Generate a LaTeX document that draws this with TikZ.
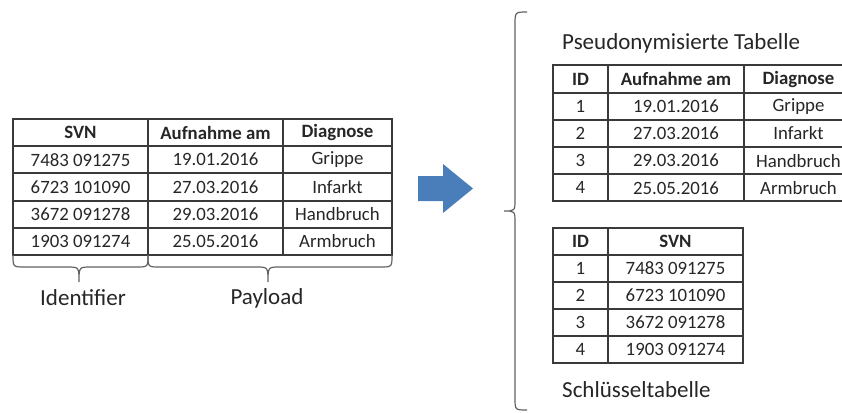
\documentclass[tikz,border=0pt]{standalone}
\usepackage{fontspec}
\setmainfont{Carlito}
\definecolor{arrowblue}{HTML}{4A7EBB}
\definecolor{txt}{HTML}{262626}
\definecolor{gridc}{HTML}{3A3A3A}
\tikzset{
  gridline/.style={line width=1.4pt, draw=gridc},
  cell/.style={inner sep=0pt, text=txt, font=\fontsize{18.8}{22}\selectfont},
  head/.style={inner sep=0pt, text=txt, font=\bfseries\fontsize{18.8}{22}\selectfont},
  label/.style={inner sep=0pt, text=txt, font=\fontsize{23}{27}\selectfont},
  bracel/.style={line width=1.2pt, draw=black!62},
}
\begin{document}
\begin{tikzpicture}[x=1pt,y=-1pt]
\useasboundingbox (0,0) rectangle (842,412);
\begin{scope}
\clip (0,0) rectangle (842,412);
% ---------- left table ----------
\draw[gridline] (13,119) rectangle (392,255);
\foreach \y in {146,173,201,228} \draw[gridline] (13,\y) -- (392,\y);
\foreach \x in {148,283} \draw[gridline] (\x,119) -- (\x,255);
\node[head] (lh1) at (80.5,132.5) {SVN};
\node[head] (lh2) at (215.5,132.5) {Aufnahme am};
\node[head] (lh3) at (337.5,132.5) {Diagnose};
\foreach \svn/\dat/\diag [count=\i] in {7483 091275/19.01.2016/Grippe,6723 101090/27.03.2016/Infarkt,3672 091278/29.03.2016/Handbruch,1903 091274/25.05.2016/Armbruch}{
  \node[cell] (l\i a) at (80.5,132.5+27.2*\i) {\svn};
  \node[cell] (l\i b) at (215.5,132.5+27.2*\i) {\dat};
  \node[cell] (l\i c) at (337.5,132.5+27.2*\i) {\diag};
}
% braces under left table
\draw[bracel] (13,255) .. controls (13,267) .. (25,267) -- (67,267) .. controls (79,267) .. (79,282) .. controls (79,267) .. (91,267) -- (136,267) .. controls (148,267) .. (148,255);
\draw[bracel] (148,255) .. controls (148,267) .. (160,267) -- (256,267) .. controls (268,267) .. (268,282) .. controls (268,267) .. (280,267) -- (380,267) .. controls (392,267) .. (392,255);
\node[label] (ident) at (83,298) {Identifier};
\node[label] (payload) at (267,298) {Payload};
% ---------- arrow ----------
\fill[arrowblue] (418,176) -- (443,176) -- (443,164) -- (473,188.5) -- (443,213) -- (443,201) -- (418,201) -- cycle;
% ---------- big brace ----------
\draw[bracel] (527,12) .. controls (515,12) .. (515,25) -- (515,199) .. controls (515,211) .. (504,211) .. controls (515,211) .. (515,223) -- (515,398) .. controls (515,410) .. (527,410);
% ---------- pseudonymised table ----------
\node[label, anchor=west] (ptitle) at (562,43) {Pseudonymisierte Tabelle};
\draw[gridline] (553,65) rectangle (853,201);
\foreach \y in {93,120,147,174} \draw[gridline] (553,\y) -- (853,\y);
\foreach \x in {608,744} \draw[gridline] (\x,65) -- (\x,201);
\node[head] (ph1) at (580.5,79) {ID};
\node[head] (ph2) at (676,79) {Aufnahme am};
\node[head] (ph3) at (798.5,79) {Diagnose};
\foreach \dat/\diag [count=\i] in {19.01.2016/Grippe,27.03.2016/Infarkt,29.03.2016/Handbruch,25.05.2016/Armbruch}{
  \node[cell] (p\i a) at (580.5,79+27.2*\i) {\i};
  \node[cell] (p\i b) at (676,79+27.2*\i) {\dat};
  \node[cell] (p\i c) at (798.5,79+27.2*\i) {\diag};
}
% ---------- key table ----------
\draw[gridline] (553,228) rectangle (743,363);
\foreach \y in {255,282,309,336} \draw[gridline] (553,\y) -- (743,\y);
\draw[gridline] (608,228) -- (608,363);
\node[head] (kh1) at (580.5,241.5) {ID};
\node[head] (kh2) at (675.5,241.5) {SVN};
\foreach \svn [count=\i] in {7483 091275,6723 101090,3672 091278,1903 091274}{
  \node[cell] (k\i a) at (580.5,241.5+27*\i) {\i};
  \node[cell] (k\i b) at (675.5,241.5+27*\i) {\svn};
}
\node[label, anchor=west] (ktitle) at (562,390) {Schlüsseltabelle};
\end{scope}
\end{tikzpicture}
\end{document}
